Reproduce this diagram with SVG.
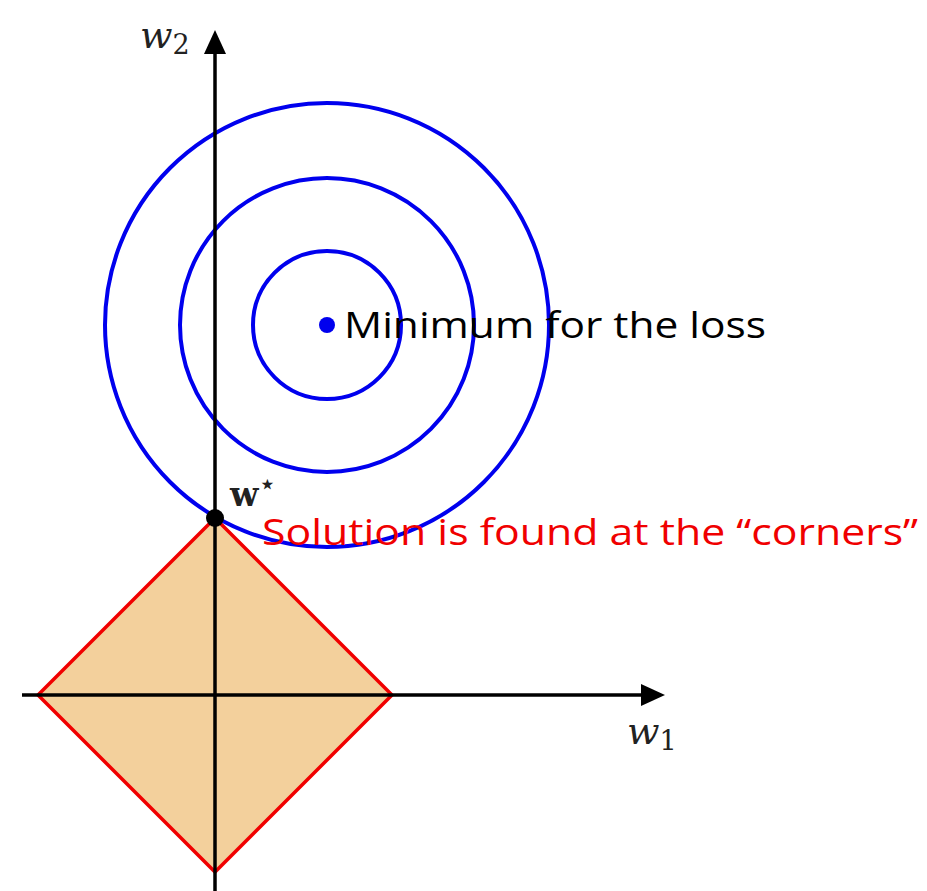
<svg xmlns="http://www.w3.org/2000/svg" width="927" height="891" viewBox="0 0 927 891">
<style>
.ax{stroke:#000;stroke-width:3.5;fill:none}
.ring{stroke:#0000EE;stroke-width:4;fill:none}
.math{font-family:"DejaVu Serif","Liberation Serif",serif;font-style:italic;fill:#222}
.lbl{font-family:"Open Sans","Liberation Sans",sans-serif;font-size:36px}
</style>
<rect width="927" height="891" fill="#fff"/>
<g id="constraint">
<polygon points="215,518 392,695 215,872 38,695" fill="#F3D09C" stroke="#F00000" stroke-width="3.5" stroke-linejoin="miter"/>
</g>
<g id="contours">
<circle cx="327" cy="325" r="74" class="ring"/>
<circle cx="327" cy="325" r="147" class="ring"/>
<circle cx="327" cy="325" r="222" class="ring"/>
</g>
<g id="axes">
<line x1="215" y1="891" x2="215" y2="50" class="ax"/>
<polygon points="215,30 204,54 226,54" fill="#000"/>
<line x1="22" y1="695" x2="645" y2="695" class="ax"/>
<polygon points="665,695 641,684 641,706" fill="#000"/>
<text x="140" y="48" class="math" font-size="38">w<tspan font-size="27" dy="6" font-style="normal">2</tspan></text>
<text x="627" y="744" class="math" font-size="38">w<tspan font-size="27" dy="6" font-style="normal">1</tspan></text>
</g>
<g id="minimum">
<circle cx="327" cy="325" r="8" fill="#0000EE"/>
<text x="344" y="338" class="lbl" fill="#000" textLength="422" lengthAdjust="spacingAndGlyphs">Minimum for the loss</text>
</g>
<g id="wstar">
<circle cx="215" cy="518" r="9" fill="#000"/>
<text x="230" y="506" font-family="DejaVu Serif,Liberation Serif,serif" font-weight="bold" font-size="33" fill="#222">w<tspan font-size="30" dy="-12" font-weight="normal">⋆</tspan></text>
<text x="262" y="545" class="lbl" fill="#F00000" textLength="656" lengthAdjust="spacingAndGlyphs">Solution is found at the “corners”</text>
</g>
</svg>
